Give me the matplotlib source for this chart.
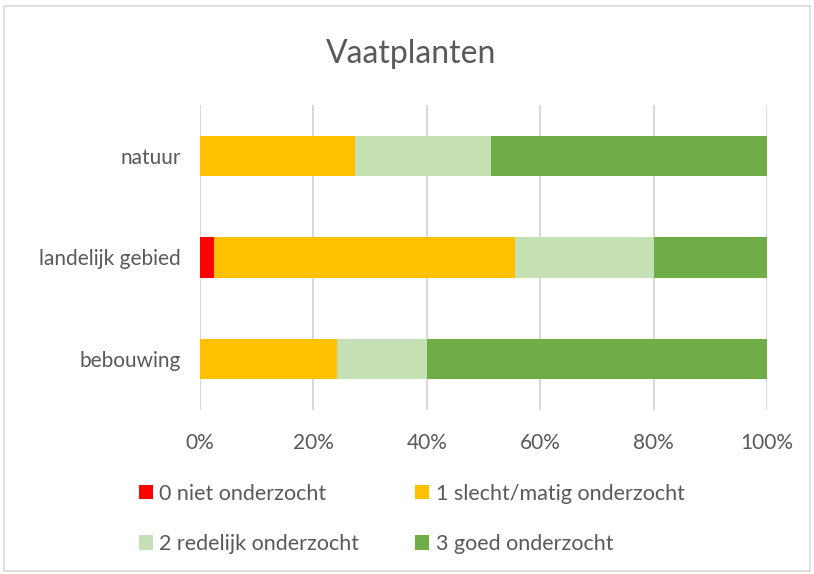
import matplotlib.pyplot as plt
from matplotlib.patches import Rectangle
from matplotlib.ticker import PercentFormatter

# categories, top to bottom as in the chart
categories = ["natuur", "landelijk gebied", "bebouwing"]
series_names = ["0 niet onderzocht", "1 slecht/matig onderzocht",
                "2 redelijk onderzocht", "3 goed onderzocht"]
niet = [0.0, 2.5, 0.0]
slecht = [27.3, 53.1, 24.2]
redelijk = [24.1, 24.5, 15.9]
goed = [48.6, 19.9, 59.9]
colors = ["#FF0000", "#FFC000", "#C5E0B4", "#70AD47"]
xticks = [0, 20, 40, 60, 80, 100]

plt.rcParams['font.family'] = ['Lato', 'DejaVu Sans']
text_color = "#595959"

fig = plt.figure(figsize=(8.14, 5.74), dpi=100)
ax = fig.add_axes([0.2457, 0.2862, 0.6966, 0.5304])

y = range(len(categories))
left = [0.0] * len(categories)
bars = []
for name, vals, c in zip(series_names, [niet, slecht, redelijk, goed], colors):
    b = ax.barh(y, vals, left=left, height=0.4, color=c, label=name, zorder=3)
    bars.append(b)
    left = [a + b for a, b in zip(left, vals)]

ax.set_xlim(0, 100)
ax.set_ylim(-0.5, len(categories) - 0.5)
ax.invert_yaxis()
ax.set_yticks(list(y))
ax.set_yticklabels(categories)
ax.set_xticks(xticks)
ax.xaxis.set_major_formatter(PercentFormatter(decimals=0))
ax.grid(axis='x', color="#d9d9d9", linewidth=1.5, zorder=0)
for s in ax.spines.values():
    s.set_visible(False)
ax.tick_params(length=0, labelsize=15, colors=text_color)
ax.tick_params(axis='x', pad=17)
ax.tick_params(axis='y', pad=14)

fig.suptitle("Vaatplanten", x=0.505, y=0.932, fontsize=23, color=text_color)

# legend is filled row by row in the reference
order = [0, 2, 1, 3]
leg = fig.legend([bars[i] for i in order], [series_names[i] for i in order],
                 loc='center', bbox_to_anchor=(0.506, 0.096), ncol=2,
                 frameon=False, fontsize=15.5, handlelength=0.65, handleheight=0.65,
                 handletextpad=0.3, columnspacing=2.6, labelspacing=1.4)
for t in leg.get_texts():
    t.set_color(text_color)

fig.patches.append(Rectangle((0.005, 0.005), 0.99, 0.985, transform=fig.transFigure,
                             fill=False, edgecolor="#d9d9d9", linewidth=1.2))

fig.savefig("out.png", dpi=100)
